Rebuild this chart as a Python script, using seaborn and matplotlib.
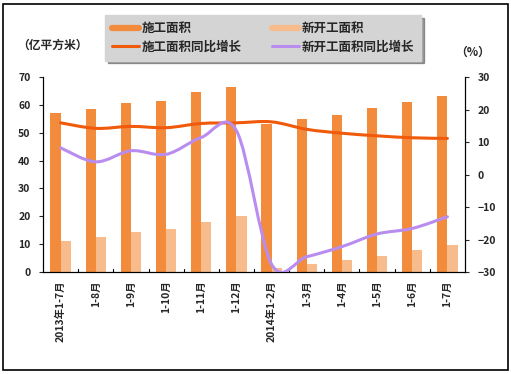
import numpy as np
import pandas as pd
import matplotlib
matplotlib.use("Agg")
import matplotlib.pyplot as plt
import seaborn as sns
from matplotlib.path import Path
from matplotlib.patches import PathPatch, Rectangle
from matplotlib.lines import Line2D

# ---- data ----
months = ["2013年1-7月", "1-8月", "1-9月", "1-10月", "1-11月", "1-12月",
          "2014年1-2月", "1-3月", "1-4月", "1-5月", "1-6月", "1-7月"]
area_under_constr = [57.0, 58.5, 60.5, 61.5, 64.5, 66.5, 53.0, 54.8, 56.5, 58.8, 61.2, 63.3]
area_new_start = [11.2, 12.6, 14.5, 15.5, 18.0, 20.2, 1.5, 2.8, 4.4, 5.8, 8.0, 9.8]
growth_constr = [15.9, 14.2, 14.8, 14.4, 15.7, 15.9, 16.2, 13.9, 12.7, 11.9, 11.3, 11.1]
growth_new = [8.2, 3.9, 7.3, 6.2, 11.4, 13.5, -27.6, -25.3, -22.2, -18.3, -16.6, -13.0]

c_bar1 = "#F28C3C"
c_bar2 = "#F8BC8C"
c_line1 = "#F05A0A"
c_line2 = "#B98CF0"

sns.set_style("white")
plt.rcParams['font.family'] = ['Noto Sans CJK SC', 'DejaVu Sans']
plt.rcParams['font.weight'] = 'bold'

df = pd.DataFrame({
    "month": months * 2,
    "value": area_under_constr + area_new_start,
    "series": ["施工面积"] * len(months) + ["新开工面积"] * len(months),
})

fig = plt.figure(figsize=(5.11, 3.74), dpi=100)
ax = fig.add_axes([43 / 511, 1 - 272 / 374, 422 / 511, 195 / 374])

sns.barplot(data=df, x="month", y="value", hue="series", ax=ax,
            palette=[c_bar1, c_bar2], width=0.58, saturation=1,
            linewidth=0, legend=False)
ax.set_xlim(-0.5, len(months) - 0.5)
ax.set_ylim(0, 70)
ax.set_yticks(range(0, 71, 10))
ax.set_xlabel("")
ax.set_ylabel("")
ax.set_xticks(range(len(months)))
ax.set_xticklabels(months, rotation=90, fontsize=7.5, fontweight='bold')
ax.tick_params(axis='x', length=0, pad=6)
ax.tick_params(axis='y', direction='out', length=3, width=0.8, labelsize=7.5, pad=6, left=True)
for b in np.arange(0.5, len(months) - 0.5, 1):
    ax.plot([b, b], [0, 1.2], color="black", lw=0.8, clip_on=False)
ax.spines["top"].set_visible(False)
for s in ["left", "bottom", "right"]:
    ax.spines[s].set_color("black")
    ax.spines[s].set_linewidth(0.8)

ax2 = ax.twinx()
ax2.set_ylim(-30, 30)
ax2.set_yticks(range(-30, 31, 10))
ax2.set_yticklabels([str(v) if v >= 0 else "−" + str(-v) for v in range(-30, 31, 10)])
ax2.tick_params(axis='y', direction='out', length=3, width=0.8, labelsize=7.5, pad=6, right=True)
ax2.spines["top"].set_visible(False)
for s in ["left", "bottom", "right"]:
    ax2.spines[s].set_color("black")
    ax2.spines[s].set_linewidth(0.8)


def smooth_path(xs, ys):
    # Excel-style smoothed line: cubic Bezier segments through the points
    pts = np.column_stack([xs, ys]).astype(float)
    verts = [pts[0]]
    codes = [Path.MOVETO]
    n = len(pts)
    for i in range(n - 1):
        p0 = pts[i - 1] if i > 0 else pts[i]
        p1 = pts[i]
        p2 = pts[i + 1]
        p3 = pts[i + 2] if i + 2 < n else pts[i + 1]
        c1 = p1 + (p2 - p0) / 6.0
        c2 = p2 - (p3 - p1) / 6.0
        verts += [c1, c2, p2]
        codes += [Path.CURVE4] * 3
    return Path(verts, codes)


xs = np.arange(len(months))
for vals, col in [(growth_constr, c_line1), (growth_new, c_line2)]:
    ax2.add_patch(PathPatch(smooth_path(xs, vals), facecolor="none",
                            edgecolor=col, lw=2.2, capstyle="round", zorder=5))

fig.text(17 / 511, 1 - 45 / 374, "（亿平方米）", fontsize=8.5, fontweight='bold',
         ha='left', va='center')
fig.text(473 / 511, 1 - 52 / 374, "（%）", fontsize=8.5, fontweight='bold',
         ha='center', va='center')

handles = [
    Line2D([0], [0], color=c_bar1, lw=4.5),
    Line2D([0], [0], color=c_line1, lw=2.2),
    Line2D([0], [0], color=c_bar2, lw=4.5),
    Line2D([0], [0], color=c_line2, lw=2.2),
]
labels = ["施工面积", "施工面积同比增长", "新开工面积", "新开工面积同比增长"]
leg = fig.legend(handles, labels, ncol=2, loc="center",
                 bbox_to_anchor=(263 / 511, 1 - 38 / 374),
                 prop={'size': 9, 'weight': 'bold'},
                 frameon=True, fancybox=False, shadow=True,
                 facecolor="#D4D4D4", edgecolor="#D4D4D4",
                 handlelength=2.2, handletextpad=0.2, columnspacing=2.4,
                 labelspacing=0.45, borderpad=0.55)
leg.get_frame().set_alpha(1)

fig.patches.append(Rectangle((3 / 511, 4 / 374), 505 / 511, 366 / 374,
                             transform=fig.transFigure, fill=False,
                             edgecolor="black", lw=1.2))

fig.savefig("out.png", dpi=100)
